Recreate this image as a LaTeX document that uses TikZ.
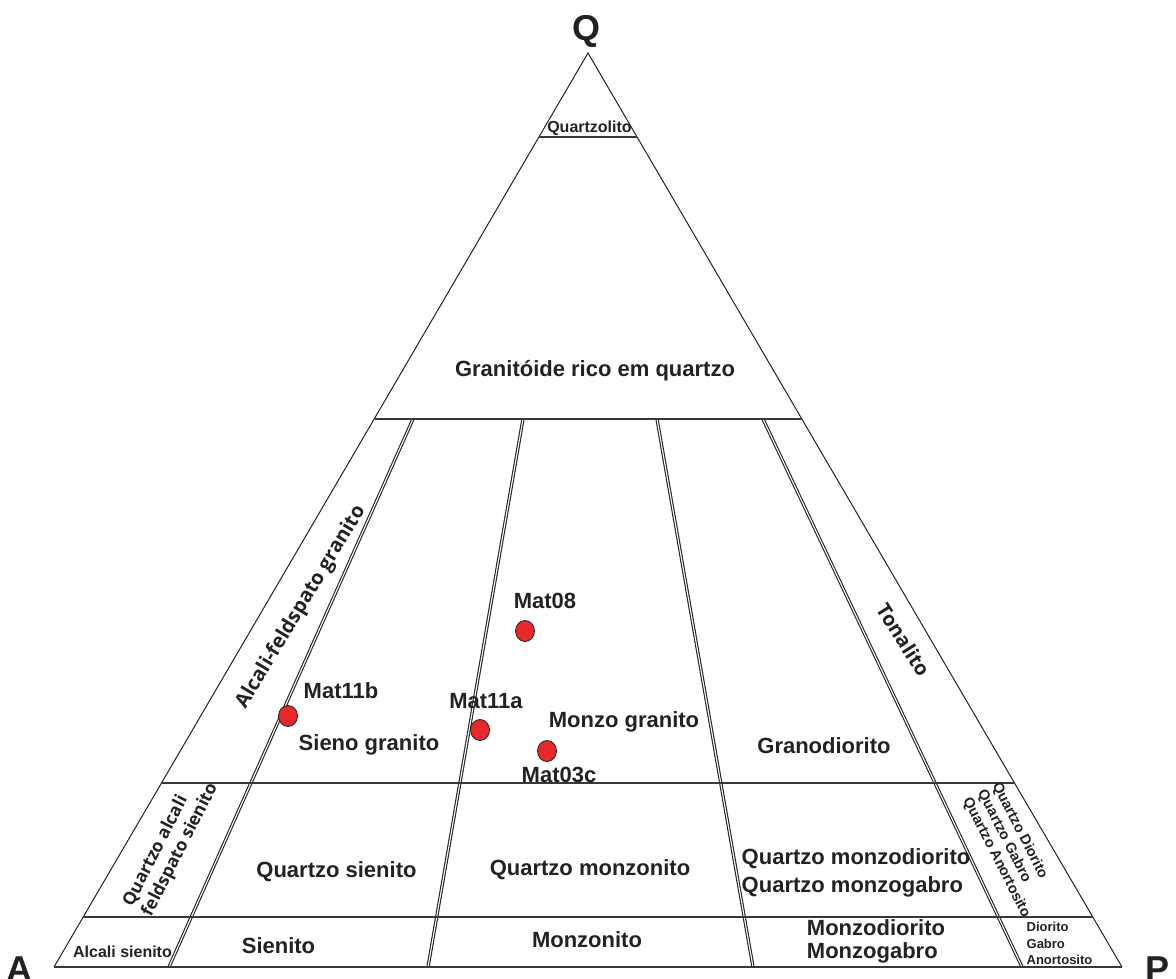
\documentclass[tikz,border=0pt]{standalone}
\usepackage{fontspec}
\setmainfont{Liberation Sans}
\newfontfamily\osans{Open Sans}
\usetikzlibrary{shapes.geometric}
\definecolor{ink}{HTML}{222222}
\definecolor{dotred}{HTML}{E8292B}
\begin{document}
\begin{tikzpicture}[x=1pt,y=-1pt,
  edge/.style={draw=ink,line width=1pt},
  hline/.style={draw=ink!90,line width=1.7pt},
  dline/.style={draw=ink,double=white,double distance=1.1pt,line width=1.1pt},
  lbl/.style={font=\fontsize{22}{28}\selectfont\bfseries,text=ink,inner sep=0pt},
  sml/.style={font=\fontsize{16}{18}\selectfont\bfseries,text=ink,inner sep=0pt},
  tiny/.style={font=\fontsize{13}{16.5}\selectfont\bfseries,text=ink,inner sep=0pt},
  big/.style={font=\fontsize{36}{40}\selectfont\bfseries,text=ink,inner sep=0pt},
  rlbl/.style={font=\osans\fontsize{20}{22.8}\selectfont\bfseries,text=ink,inner sep=0pt},
  dot/.style={ellipse,draw=ink,line width=0.8pt,fill=dotred,minimum width=19pt,minimum height=21pt,inner sep=0pt}
]
\useasboundingbox (0,0) rectangle (1176,978);

% corners
\coordinate (Q) at (588,53);
\coordinate (A) at (54,967);
\coordinate (P) at (1122,967);
% horizontal division ends
\coordinate (h90l) at (539,137);  \coordinate (h90r) at (637,137);
\coordinate (h60l) at (375,419);  \coordinate (h60r) at (802,419);
\coordinate (h20l) at (162,783);  \coordinate (h20r) at (1015,783);
\coordinate (h5l)  at (83,917);   \coordinate (h5r)  at (1093,917);
% radial division ends
\coordinate (d1t) at (413,419); \coordinate (d1b) at (169,967);
\coordinate (d2t) at (523,419); \coordinate (d2b) at (428,967);
\coordinate (d3t) at (657,419); \coordinate (d3b) at (753,967);
\coordinate (d4t) at (763,419); \coordinate (d4b) at (1022,967);

% radial double lines
\draw[dline] (d1t) -- (d1b);
\draw[dline] (d2t) -- (d2b);
\draw[dline] (d3t) -- (d3b);
\draw[dline] (d4t) -- (d4b);

% triangle
\draw[edge] (A) -- (Q) -- (P);
\draw[hline] (A) -- (P);
\draw[hline] (h90l) -- (h90r);
\draw[hline] (h60l) -- (h60r);
\draw[hline] (h20l) -- (h20r);
\draw[hline] (h5l) -- (h5r);

% corner labels
\node[big,anchor=base] (lQ) at (586,40) {Q};
\node[big,anchor=base] (lA) at (19,981) {A};
\node[big,anchor=base west] (lP) at (1145,981) {P};

% field labels
\node[sml,anchor=base] (quartzolito) at (589.5,132) {Quartzolito};
\node[lbl,anchor=base] (grq) at (595,376) {Granitóide rico em quartzo};
\node[rlbl,rotate=59] (afg) at (301,607) {Alcali-feldspato granito};
\node[rlbl,rotate=-57.6] (ton) at (903.5,640) {Tonalito};
\node[lbl,anchor=base] (sg) at (369,750) {Sieno granito};
\node[lbl,anchor=base] (mg) at (624,727) {Monzo granito};
\node[lbl,anchor=base] (gd) at (824,753) {Granodiorito};
\node[rlbl,font=\osans\fontsize{17.5}{21}\selectfont\bfseries,rotate=63,align=left] (qafs) at (171,845) {Quartzo alcali\\feldspato sienito};
\node[lbl,anchor=base] (qs) at (336.5,877) {Quartzo sienito};
\node[lbl,anchor=base] (qm) at (590,875) {Quartzo monzonito};
\node[lbl,align=left,font=\fontsize{22}{28}\selectfont\bfseries] (qmd) at (856,873) {Quartzo monzodiorito\\Quartzo monzogabro};
\node[tiny,font=\fontsize{14.5}{16.5}\selectfont\bfseries,rotate=-63,align=left] (qd) at (1011,850) {Quartzo Diorito\\Quartzo Gabro\\Quartzo Anortosito};
\node[sml,anchor=base] (as) at (122.5,957) {Alcali sienito};
\node[lbl,anchor=base] (sn) at (278.5,953) {Sienito};
\node[lbl,anchor=base] (mz) at (587,947) {Monzonito};
\node[lbl,align=left,font=\fontsize{22}{23.5}\selectfont\bfseries] (md) at (876,941.5) {Monzodiorito\\Monzogabro};
\node[tiny,align=left] (dga) at (1059.5,943.5) {Diorito\\Gabro\\Anortosito};

% samples
\node[dot] (s08) at (525,631) {};
\node[dot] (s11b) at (288,716) {};
\node[dot] (s11a) at (480,730) {};
\node[dot] (s03c) at (547,751) {};
\node[lbl,anchor=base] (t08) at (545,608) {Mat08};
\node[lbl,anchor=base] (t11b) at (341,698) {Mat11b};
\node[lbl,anchor=base] (t11a) at (486,708) {Mat11a};
\node[lbl,anchor=base] (t03c) at (559,782) {Mat03c};
\end{tikzpicture}
\end{document}
